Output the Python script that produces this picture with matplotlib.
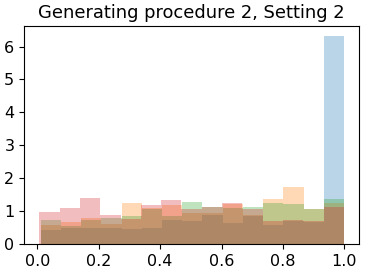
import numpy as np
import matplotlib
matplotlib.use("Agg")
import matplotlib.pyplot as plt

n_bins = 15
# density heights per bin
blue = [0.42, 0.50, 0.48, 0.48, 0.45, 0.50, 0.74, 0.71, 0.89, 0.65, 0.86, 0.59, 0.71, 0.68, 6.31]
orange = [0.59, 0.66, 0.80, 0.62, 1.26, 1.11, 1.20, 0.94, 0.94, 1.23, 0.89, 1.38, 1.72, 1.08, 1.26]
green = [0.72, 0.56, 0.74, 0.80, 0.86, 1.05, 0.86, 1.29, 1.14, 1.11, 1.14, 1.26, 1.23, 1.05, 1.38]
red = [0.96, 1.11, 1.41, 0.89, 0.77, 1.20, 1.35, 1.05, 1.12, 1.26, 1.08, 0.71, 0.74, 0.70, 1.14]
# smallest / largest sample of each series
lows = [0.011, 0.011, 0.011, 0.006]
highs = [0.999, 0.999, 0.999, 0.999]
series = [blue, orange, green, red]

plt.rcParams['font.size'] = 11.5

fig = plt.figure(figsize=(3.65, 2.73), dpi=100)
ax = fig.add_axes([0.066, 0.106, 0.918, 0.799])

for vals, lo, hi, col in zip(series, lows, highs, ['C0', 'C1', 'C2', 'C3']):
    edges = np.linspace(lo, hi, n_bins + 1)
    centers = (edges[:-1] + edges[1:]) / 2
    ax.hist(centers, bins=edges, weights=vals, color=col, alpha=0.3)

ax.set_xticks([0.0, 0.2, 0.4, 0.6, 0.8, 1.0])
ax.set_yticks([0, 1, 2, 3, 4, 5, 6])
ax.set_title("Generating procedure 2, Setting 2", fontsize=12.9)

fig.savefig("out.png", dpi=100)
